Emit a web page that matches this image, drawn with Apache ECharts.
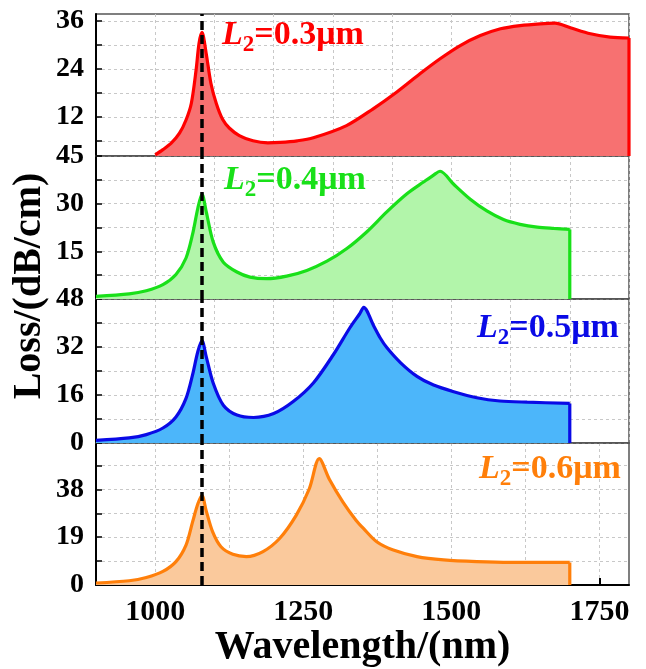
<!DOCTYPE html>
<html>
<head>
<meta charset="utf-8">
<script src="https://cdn.jsdelivr.net/npm/echarts@6/dist/echarts.min.js"></script>
<style>
  html, body { margin: 0; padding: 0; background: #fff; }
  #chart { width: 646px; height: 669px; }
</style>
</head>
<body>
<div id="chart"></div>
<script>
// wavelength (nm) / loss (dB/cm)
const redWl   = [1000, 1013, 1027, 1041, 1052, 1061, 1069, 1074, 1079, 1086, 1094, 1103, 1114, 1125, 1142, 1165, 1190, 1211, 1240, 1267, 1323, 1368, 1408, 1447, 1481, 1515, 1549, 1583, 1616, 1650, 1675, 1701, 1735, 1768, 1800];
const redLoss = [2.5, 3.8, 5.4, 7.9, 11.2, 15.4, 23.7, 30.4, 33.1, 27.9, 20.4, 15.4, 11.3, 9.2, 7.3, 6.0, 5.5, 5.6, 6.0, 6.75, 9.8, 14.0, 18.2, 22.75, 26.5, 29.8, 32.3, 34.0, 34.8, 35.25, 35.4, 34.25, 32.75, 31.9, 31.7];

const greenWl   = [900, 956, 985, 1013, 1035, 1052, 1063, 1072, 1079, 1086, 1098, 1115, 1138, 1160, 1188, 1222, 1256, 1290, 1323, 1357, 1391, 1425, 1453, 1470, 1481, 1504, 1532, 1560, 1588, 1616, 1645, 1673, 1700];
const greenLoss = [0.8, 1.6, 2.6, 4.5, 7.7, 12.9, 20.3, 28.6, 33.0, 27.6, 17.9, 11.6, 8.5, 6.9, 6.4, 7.2, 9.0, 11.9, 15.8, 21.1, 27.4, 33.1, 36.8, 39.0, 40.2, 36.1, 31.4, 27.7, 25.0, 23.5, 22.6, 22.2, 21.9];

const blueWl   = [900, 956, 985, 1013, 1035, 1052, 1063, 1072, 1079, 1086, 1098, 1115, 1138, 1166, 1200, 1233, 1267, 1301, 1329, 1345, 1352, 1369, 1380, 1391, 1414, 1442, 1470, 1504, 1543, 1582, 1628, 1700];
const blueLoss = [0.9, 1.7, 2.8, 5.0, 8.7, 14.9, 22.7, 30.5, 34.1, 28.9, 19.9, 12.6, 9.3, 8.5, 9.8, 13.8, 20.0, 29.5, 38.5, 43.0, 45.2, 39.0, 35.0, 31.8, 26.8, 22.2, 19.3, 17.1, 15.1, 14.0, 13.6, 13.2];

const orangeWl   = [900, 956, 985, 1013, 1035, 1052, 1063, 1072, 1079, 1086, 1097, 1111, 1131, 1154, 1182, 1210, 1238, 1260, 1277, 1294, 1317, 1339, 1352, 1374, 1402, 1442, 1487, 1543, 1600, 1700];
const orangeLoss = [0.8, 1.7, 3.0, 5.4, 9.3, 15.9, 25.0, 32.3, 35.6, 29.6, 21.1, 15.2, 12.2, 11.3, 13.3, 18.5, 27.7, 38.2, 50.3, 42.1, 33.0, 25.8, 22.4, 17.2, 13.9, 11.3, 10.0, 9.3, 9.0, 9.0];

// tick / label values
const xLabels = [1000, 1250, 1500, 1750];
const xGridBottom = [1000, 1125, 1250, 1375, 1500, 1625, 1750];
const redTicks = [6, 12, 18, 24, 30, 36],        redLabels = [12, 24, 36];
const greenTicks = [7.5, 15, 22.5, 30, 37.5, 45], greenLabels = [15, 30, 45];
const blueTicks = [0, 8, 16, 24, 32, 40, 48],    blueLabels = [0, 16, 32, 48];
const orangeTicks = [0, 9.5, 19, 28.5, 38, 47.5], orangeLabels = [0, 19, 38];
const markWl = 1078;

const FONT = '"Liberation Serif", "Times New Roman", serif';

const panels = [
  { wl: redWl, loss: redLoss, line: '#ff0000', fill: '#f77171', min: 2.2, max: 37.7, ticks: redTicks, labels: redLabels, top: 14, height: 142, tag: '0.3', tx: 222, ty: 35 },
  { wl: greenWl, loss: greenLoss, line: '#19e019', fill: '#b2f5aa', min: 0, max: 45, ticks: greenTicks, labels: greenLabels, top: 156, height: 143, tag: '0.4', tx: 224, ty: 180 },
  { wl: blueWl, loss: blueLoss, line: '#0a0ae6', fill: '#4cb6fa', min: 0, max: 48, ticks: blueTicks, labels: blueLabels, top: 299, height: 144, tag: '0.5', tx: 477, ty: 328 },
  { wl: orangeWl, loss: orangeLoss, line: '#ff7f0a', fill: '#fac99c', min: 0, max: 56.5, ticks: orangeTicks, labels: orangeLabels, top: 443, height: 142, tag: '0.6', tx: 479, ty: 469 }
];

const gridLine = { show: true, lineStyle: { color: '#c8c8c8', type: [3, 3], width: 1 } };

let grids = [], xAxes = [], yAxes = [], series = [], texts = [];

panels.forEach(function (p, i) {
  let last = i === panels.length - 1;
  grids.push({ left: 96, right: 17, top: p.top, height: p.height, show: true, borderColor: '#555', borderWidth: 1.5 });

  let xa = {
    gridIndex: i, type: 'value', min: 900, max: 1800,
    axisLine: { show: true, onZero: false, lineStyle: { color: last ? '#000' : '#555', width: last ? 2 : 1.5 } },
    axisTick: { show: false },
    axisLabel: { show: false },
    splitLine: gridLine
  };
  if (last) {
    xa.axisTick = { show: true, inside: true, length: 7, customValues: xGridBottom, lineStyle: { color: '#000', width: 2 } };
    xa.axisLabel = {
      show: true, customValues: xLabels, fontSize: 30, fontWeight: 'bold', fontFamily: FONT, color: '#000', margin: 12,
      formatter: function (v) { return String(v); }
    };
    xa.name = 'Wavelength/(nm)';
    xa.nameLocation = 'middle';
    xa.nameGap = 39;
    xa.nameTextStyle = { fontSize: 40, fontWeight: 'bold', fontFamily: FONT, color: '#000' };
  } else {
    xa.interval = 100;
  }
  xAxes.push(xa);

  yAxes.push({
    gridIndex: i, type: 'value', min: p.min, max: p.max,
    axisLine: { show: true, onZero: false, lineStyle: { color: '#000', width: 2 } },
    axisTick: { show: true, inside: true, length: 6, customValues: p.ticks, lineStyle: { color: '#000', width: 1.5 } },
    axisLabel: { customValues: p.labels, fontSize: 28, fontWeight: 'bold', fontFamily: FONT, color: '#000', margin: 12 },
    splitLine: gridLine
  });

  series.push({
    type: 'line', xAxisIndex: i, yAxisIndex: i,
    data: p.wl.map(function (w, k) { return [w, p.loss[k]]; }),
    showSymbol: false, smooth: 0.3,
    lineStyle: { color: p.line, width: 3.2 },
    areaStyle: { color: p.fill, opacity: 1, origin: 'start' },
    markLine: {
      silent: true, symbol: ['none', 'none'], label: { show: false },
      lineStyle: { color: '#000', width: 3.5, type: [9, 5] },
      data: [{ xAxis: markWl }]
    }
  });

  // vertical edge where the curve ends
  let endWl = p.wl[p.wl.length - 1];
  series.push({
    type: 'line', xAxisIndex: i, yAxisIndex: i,
    data: [[endWl, p.loss[p.loss.length - 1]], [endWl, p.min]],
    showSymbol: false,
    lineStyle: { color: p.line, width: 3.2 }
  });

  texts.push({
    type: 'text', x: p.tx, y: p.ty, z: 100,
    style: {
      text: '{i|L}{s|2}{n|=' + p.tag + 'μm}',
      align: 'left', verticalAlign: 'middle',
      rich: {
        i: { fontSize: 34, fontStyle: 'italic', fontWeight: 'bold', fontFamily: FONT, fill: p.line },
        s: { fontSize: 23, fontWeight: 'bold', fontFamily: FONT, fill: p.line, padding: [20, 0, 0, 0] },
        n: { fontSize: 34, fontWeight: 'bold', fontFamily: FONT, fill: p.line }
      }
    }
  });
});

texts.push({
  type: 'text', x: 30, y: 286, rotation: Math.PI / 2, z: 100,
  style: { text: 'Loss/(dB/cm)', fontSize: 40, fontWeight: 'bold', fontFamily: FONT, fill: '#000', align: 'center', verticalAlign: 'middle' }
});

let chart = echarts.init(document.getElementById('chart'));
chart.setOption({
  animation: false,
  backgroundColor: '#fff',
  grid: grids,
  xAxis: xAxes,
  yAxis: yAxes,
  series: series,
  graphic: texts
});
</script>
</body>
</html>
